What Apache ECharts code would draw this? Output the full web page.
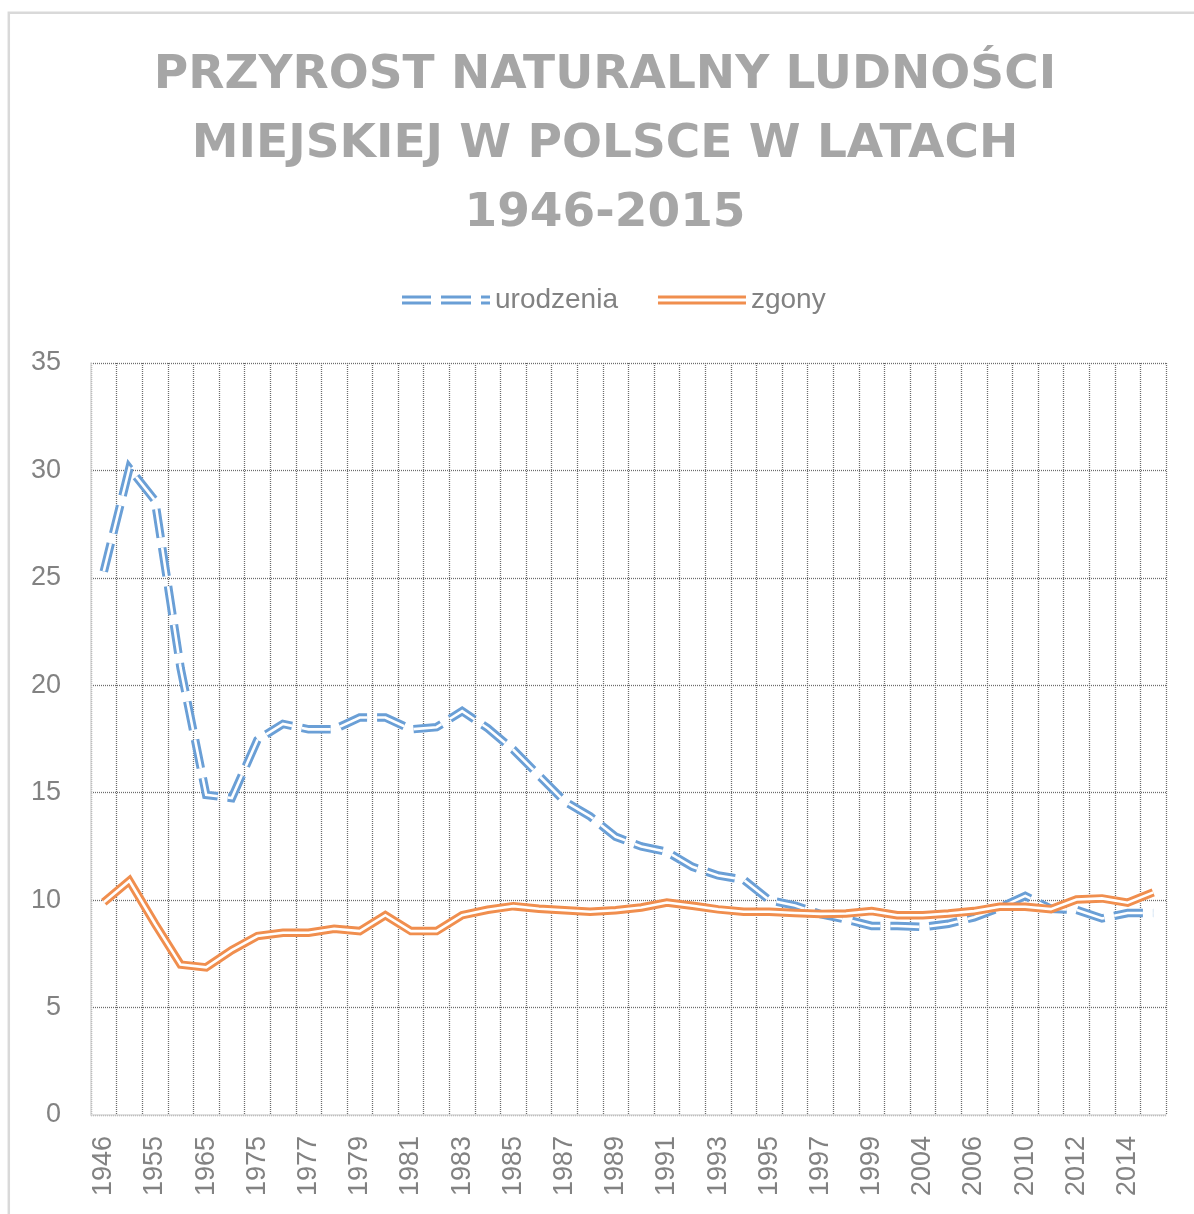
<!DOCTYPE html>
<html>
<head>
<meta charset="utf-8">
<title>Przyrost naturalny ludności miejskiej</title>
<script src="https://cdn.jsdelivr.net/npm/echarts@6/dist/echarts.min.js"></script>
<style>
  html, body { margin: 0; padding: 0; background: #fff; }
  #chart { width: 1194px; height: 1214px; }
</style>
</head>
<body>
<div id="chart"></div>
<script>
// lata (oś kategorii)
const years = ['1946', '1950', '1955', '1960', '1965', '1970', '1975', '1976', '1977', '1978',
  '1979', '1980', '1981', '1982', '1983', '1984', '1985', '1986', '1987', '1988',
  '1989', '1990', '1991', '1992', '1993', '1994', '1995', '1996', '1997', '1998',
  '1999', '2000', '2004', '2005', '2006', '2008', '2010', '2011', '2012', '2013',
  '2014', '2015']

// urodzenia na 1000 mieszkańców
const urodzenia = [25.3, 30.1, 28.6, 20.8, 14.9, 14.75, 17.45, 18.2, 17.95, 17.95,
  18.5, 18.5, 17.95, 18.05, 18.8, 18.0, 17.0, 15.8, 14.6, 13.9,
  12.95, 12.5, 12.25, 11.55, 11.15, 10.95, 10.0, 9.75, 9.35, 9.1,
  8.8, 8.8, 8.75, 8.9, 9.2, 9.65, 10.2, 9.6, 9.55, 9.15,
  9.4, 9.4]

// zgony na 1000 mieszkańców
const zgony = [9.9, 10.9, 8.9, 7.0, 6.87, 7.67, 8.33, 8.48, 8.48, 8.67,
  8.56, 9.3, 8.56, 8.56, 9.3, 9.55, 9.72, 9.6, 9.53, 9.46,
  9.53, 9.66, 9.89, 9.74, 9.57, 9.46, 9.46, 9.4, 9.36, 9.38,
  9.49, 9.3, 9.3, 9.38, 9.49, 9.69, 9.69, 9.58, 10.03, 10.08,
  9.88, 10.36]

const yTicks = { min: 0, max: 35, interval: 5 }

const blue = '#6a9fd6'
const orange = '#f08e4e'
const labelColor = '#828282'
const gridStyle = { color: '#6c6c6c', width: 1.3, type: [1, 1] }
const dash = [29, 10]

// linia podwójna: gruba kolorowa + cienka biała na wierzchu
function doubleLine(name, data, color, type) {
  const base = {
    name,
    type: 'line',
    data,
    symbol: 'none',
    silent: true,
    animation: false,
  }
  return [
    Object.assign({}, base, { lineStyle: { color, width: 8.5, type, cap: 'butt', join: 'miter' }, itemStyle: { color } }),
    Object.assign({}, base, { lineStyle: { color: '#fff', width: 2.6, type, cap: 'butt', join: 'miter' }, itemStyle: { color } }),
  ]
}

const chart = echarts.init(document.getElementById('chart'), null, { renderer: 'canvas' })

const option = {
  backgroundColor: '#fff',
  animation: false,
  title: {
    text: 'PRZYROST NATURALNY LUDNOŚCI\nMIEJSKIEJ W POLSCE W LATACH\n1946-2015',
    left: 605,
    top: 41,
    textAlign: 'center',
    padding: 0,
    textStyle: {
      fontFamily: 'DejaVu Sans',
      fontWeight: 'bold',
      fontSize: 47,
      lineHeight: 69,
      color: '#a6a6a6',
    },
  },
  legend: {
    left: 397,
    top: 281,
    itemWidth: 88,
    itemHeight: 9,
    itemGap: 40,
    selectedMode: false,
    textStyle: { fontFamily: 'Liberation Sans', fontSize: 28, color: labelColor },
    data: [
      {
        name: 'urodzenia',
        icon: 'path://M0,0H29V3H0Z M0,6H29V9H0Z M39,0H69V3H39Z M39,6H69V9H39Z M79,0H88V3H79Z M79,6H88V9H79Z',
        itemStyle: { color: blue },
      },
      {
        name: 'zgony',
        icon: 'path://M0,0H88V3H0Z M0,6H88V9H0Z',
        itemStyle: { color: orange },
      },
    ],
  },
  grid: { left: 91, right: 28, top: 363, bottom: 99 },
  xAxis: {
    type: 'category',
    data: years,
    boundaryGap: true,
    axisLine: { show: true, lineStyle: { color: '#d9d9d9', width: 1.5 } },
    axisTick: { show: false },
    axisLabel: {
      interval: 1,
      rotate: 90,
      margin: 21,
      fontFamily: 'Liberation Sans',
      fontSize: 27,
      color: labelColor,
    },
    splitLine: { show: true, interval: 0, lineStyle: gridStyle },
  },
  yAxis: {
    type: 'value',
    min: yTicks.min,
    max: yTicks.max,
    interval: yTicks.interval,
    axisLine: { show: true, lineStyle: { color: '#d9d9d9', width: 1.5 } },
    axisTick: { show: false },
    axisLabel: {
      margin: 30,
      fontFamily: 'Liberation Sans',
      fontSize: 27,
      color: labelColor,
    },
    splitLine: { show: true, lineStyle: gridStyle },
  },
  graphic: [
    {
      type: 'rect',
      silent: true,
      shape: { x: 8.8, y: 12.8, width: 1220, height: 1240 },
      style: { fill: 'none', stroke: '#d9d9d9', lineWidth: 2.5 },
    },
  ],
  series: [
    ...doubleLine('urodzenia', urodzenia, blue, dash),
    ...doubleLine('zgony', zgony, orange, 'solid'),
  ],
}

chart.setOption(option)
</script>
</body>
</html>
